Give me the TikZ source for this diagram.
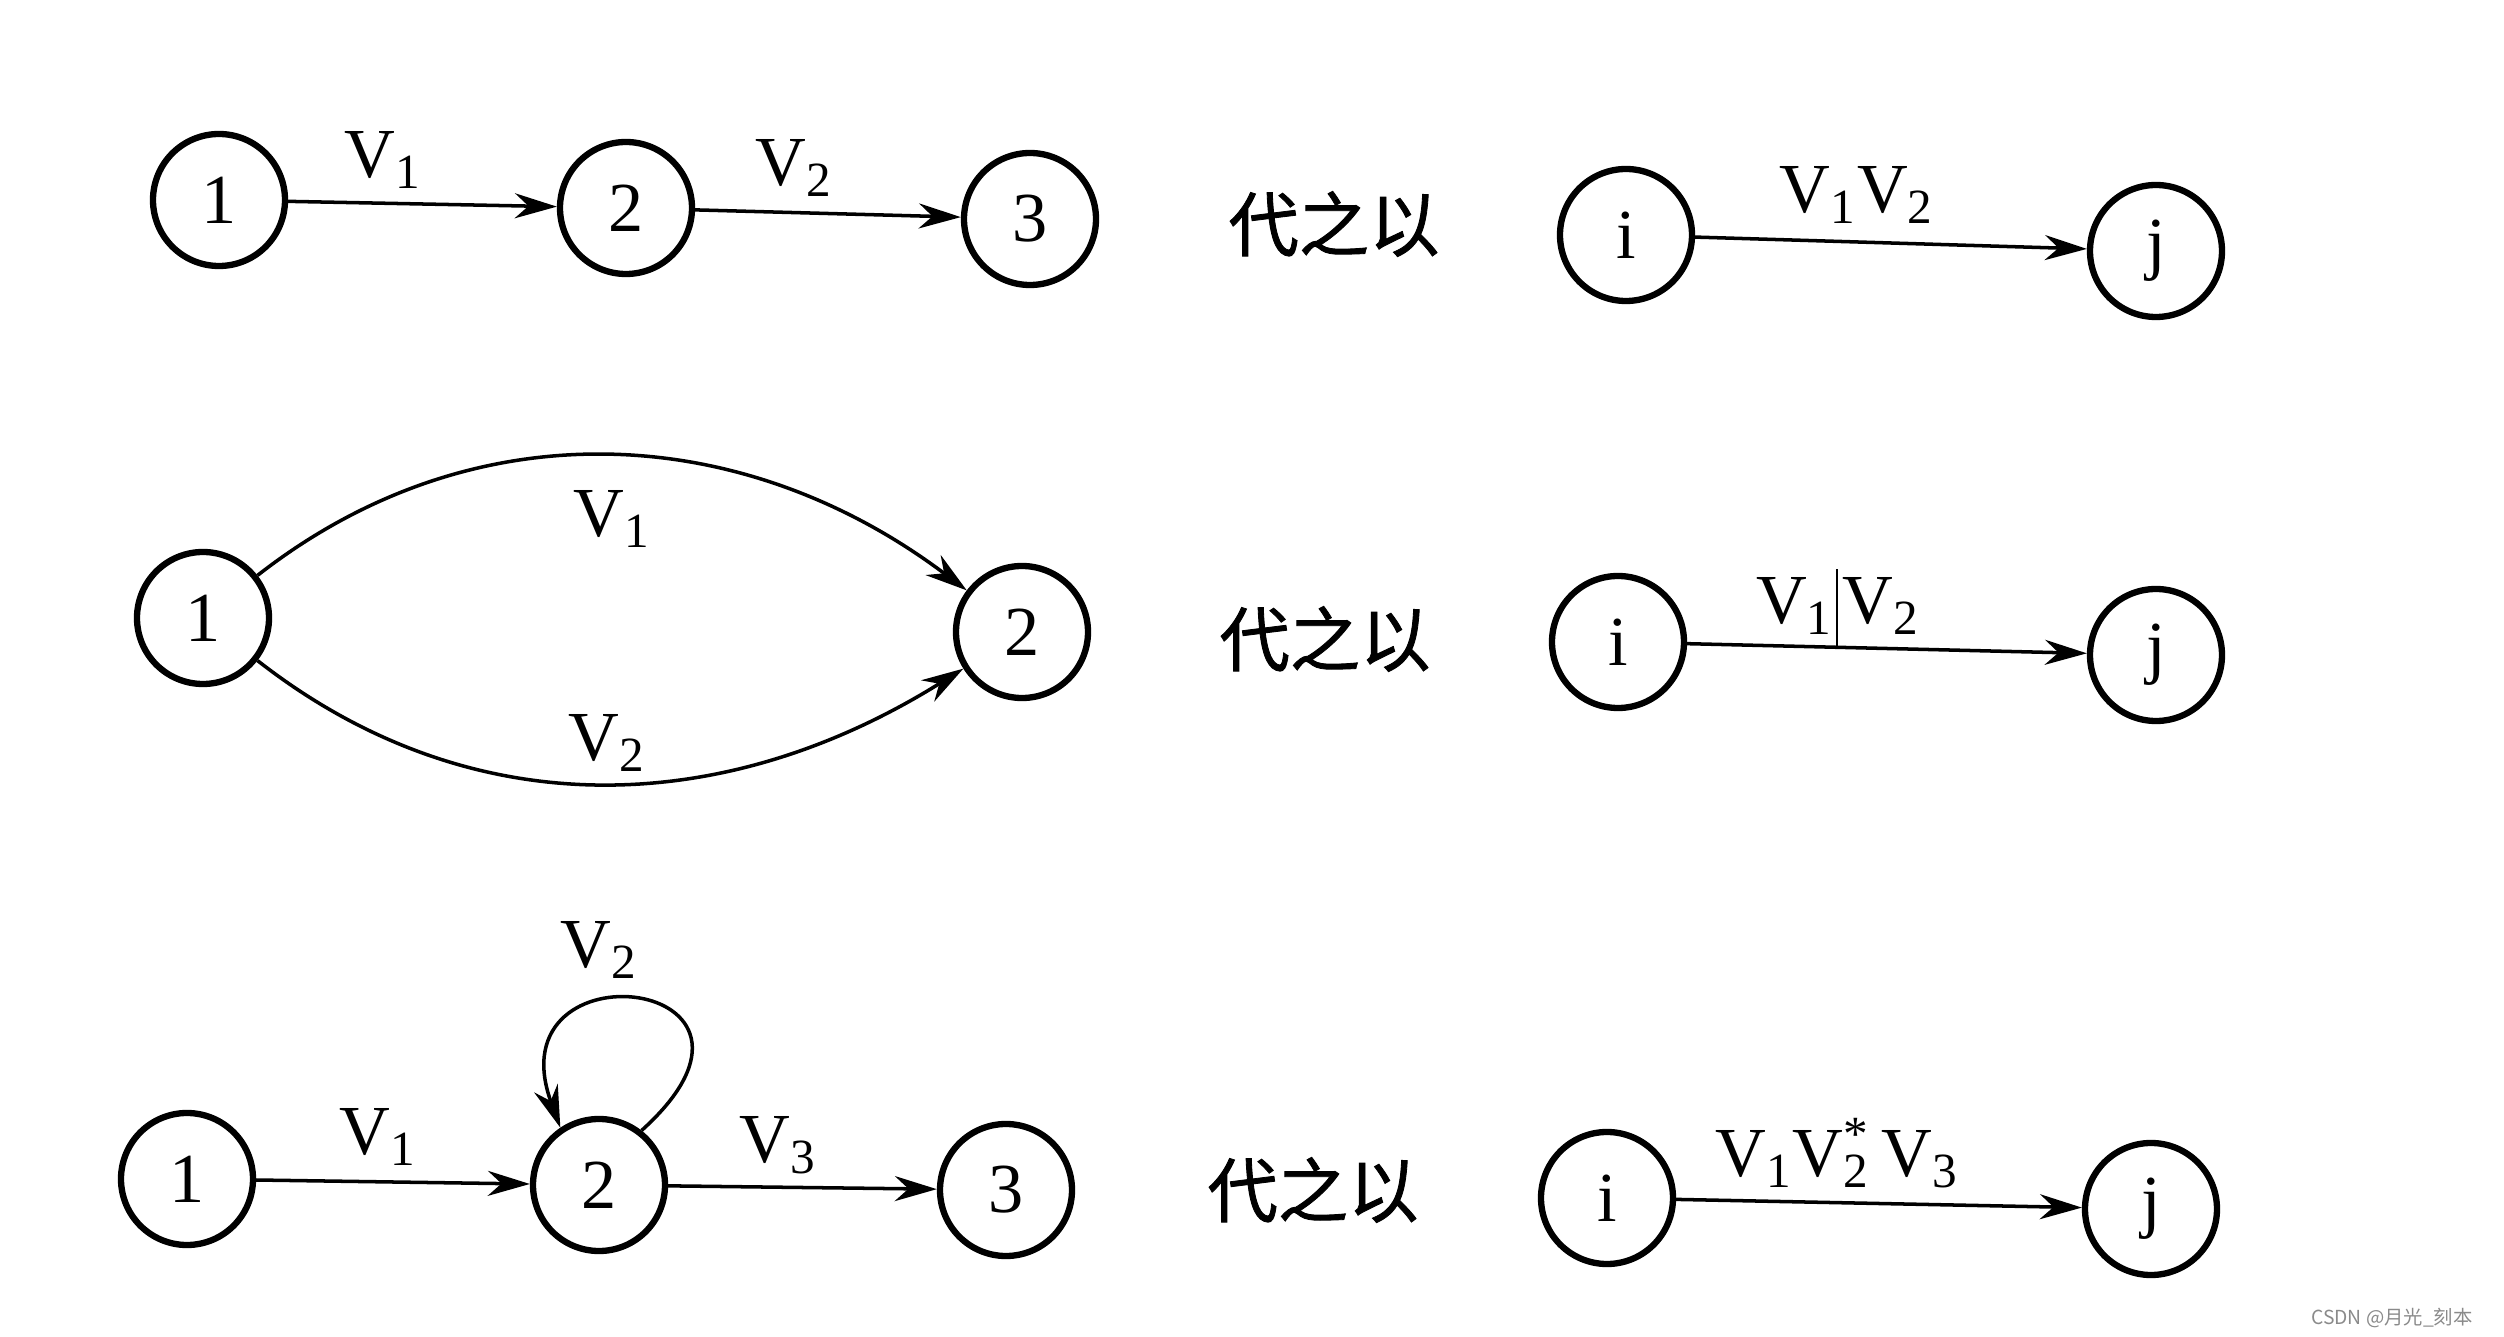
\documentclass[tikz,border=0pt]{standalone}
\usepackage{fontspec}
\setmainfont{Liberation Serif}
\newfontfamily\cjkfont[FakeBold=1.2]{Noto Sans CJK SC}
\newfontfamily\markfont{Noto Sans CJK SC}
\usepackage{xcolor}
\definecolor{markGray}{HTML}{8A8A8A}
\usetikzlibrary{arrows.meta}
\newcommand{\subsup}[2]{\rlap{\textsuperscript{#2}}\textsubscript{#1}}

\tikzset{
  state/.style={draw, circle, line width=1.8pt, minimum size=1.32cm, inner sep=0pt,
    font=\fontsize{20}{24}\selectfont},
  trans/.style={line width=1pt, -{Stealth[length=4.2mm,width=2.5mm]}},
  lbl/.style={font=\fontsize{20}{24}\selectfont, inner sep=0pt},
  subst/.style={font=\cjkfont\fontsize{20}{24}\selectfont, inner sep=0pt}
}

\begin{document}
\begin{tikzpicture}
  \useasboundingbox (0cm,0cm) rectangle (25.04cm,-13.37cm);

  % row 1: series
  \node[state] (a1) at (2.19cm,-2.00cm) {1};
  \node[state] (a2) at (6.26cm,-2.08cm) {2};
  \node[state] (a3) at (10.30cm,-2.19cm) {3};
  \draw[trans] (a1) -- (a2);
  \draw[trans] (a2) -- (a3);
  \node[lbl] (a1v) at (3.83cm,-1.60cm) {V\textsubscript{1}};
  \node[lbl] (a2v) at (7.94cm,-1.68cm) {V\textsubscript{2}};
  \node[subst] (asub) at (13.34cm,-2.24cm) {代之以};
  \node[state] (ai) at (16.26cm,-2.35cm) {i};
  \node[state] (aj) at (21.56cm,-2.51cm) {j};
  \draw[trans] (ai) -- (aj);
  \node[lbl] (aij) at (18.57cm,-1.95cm) {V\textsubscript{1}V\textsubscript{2}};

  % row 2: parallel
  \node[state] (b1) at (2.03cm,-6.18cm) {1};
  \node[state] (b2) at (10.22cm,-6.32cm) {2};
  \draw[trans] (b1) to[out=38,in=143] (b2);
  \draw[trans] (b1) to[out=-38,in=-148] (b2);
  \node[lbl] (b1v) at (6.12cm,-5.19cm) {V\textsubscript{1}};
  \node[lbl] (b2v) at (6.07cm,-7.43cm) {V\textsubscript{2}};
  \node[subst] (bsub) at (13.25cm,-6.39cm) {代之以};
  \node[state] (bi) at (16.18cm,-6.42cm) {i};
  \node[state] (bj) at (21.56cm,-6.55cm) {j};
  \draw[trans] (bi) -- (bj) coordinate[pos=0.375] (bbar);
  \draw[line width=0.6pt] (bbar) -- ++(0,0.78cm) coordinate (bbartop);
  \node[lbl, anchor=south east] (bijl) at ([xshift=-0.03cm,yshift=0.12cm]bbar) {V\textsubscript{1}};
  \node[lbl, anchor=south west] (bijr) at ([xshift=0.05cm,yshift=0.12cm]bbar) {V\textsubscript{2}};

  % row 3: loop
  \node[state] (c1) at (1.87cm,-11.79cm) {1};
  \node[state] (c2) at (5.99cm,-11.85cm) {2};
  \node[state] (c3) at (10.06cm,-11.90cm) {3};
  \draw[trans] (c1) -- (c2);
  \draw[trans] (c2) -- (c3);
  \draw[trans] (c2.52) .. controls +(42:2.3cm) and +(110:2.0cm) .. (c2.124);
  \node[lbl] (c2v) at (5.99cm,-9.50cm) {V\textsubscript{2}};
  \node[lbl] (c1v) at (3.78cm,-11.37cm) {V\textsubscript{1}};
  \node[lbl] (c3v) at (7.78cm,-11.45cm) {V\textsubscript{3}};
  \node[subst] (csub) at (13.13cm,-11.90cm) {代之以};
  \node[state] (ci) at (16.07cm,-11.98cm) {i};
  \node[state] (cj) at (21.51cm,-12.09cm) {j};
  \draw[trans] (ci) -- (cj);
  \node[lbl] (cij) at (18.37cm,-11.53cm) {V\textsubscript{1}V\subsup{2}{*}\,V\textsubscript{3}};

  \node[font=\markfont\fontsize{5.5}{6}\selectfont, text=markGray, anchor=east] (mark)
    at (24.85cm,-13.18cm) {CSDN @月光\_刻本};
\end{tikzpicture}
\end{document}
